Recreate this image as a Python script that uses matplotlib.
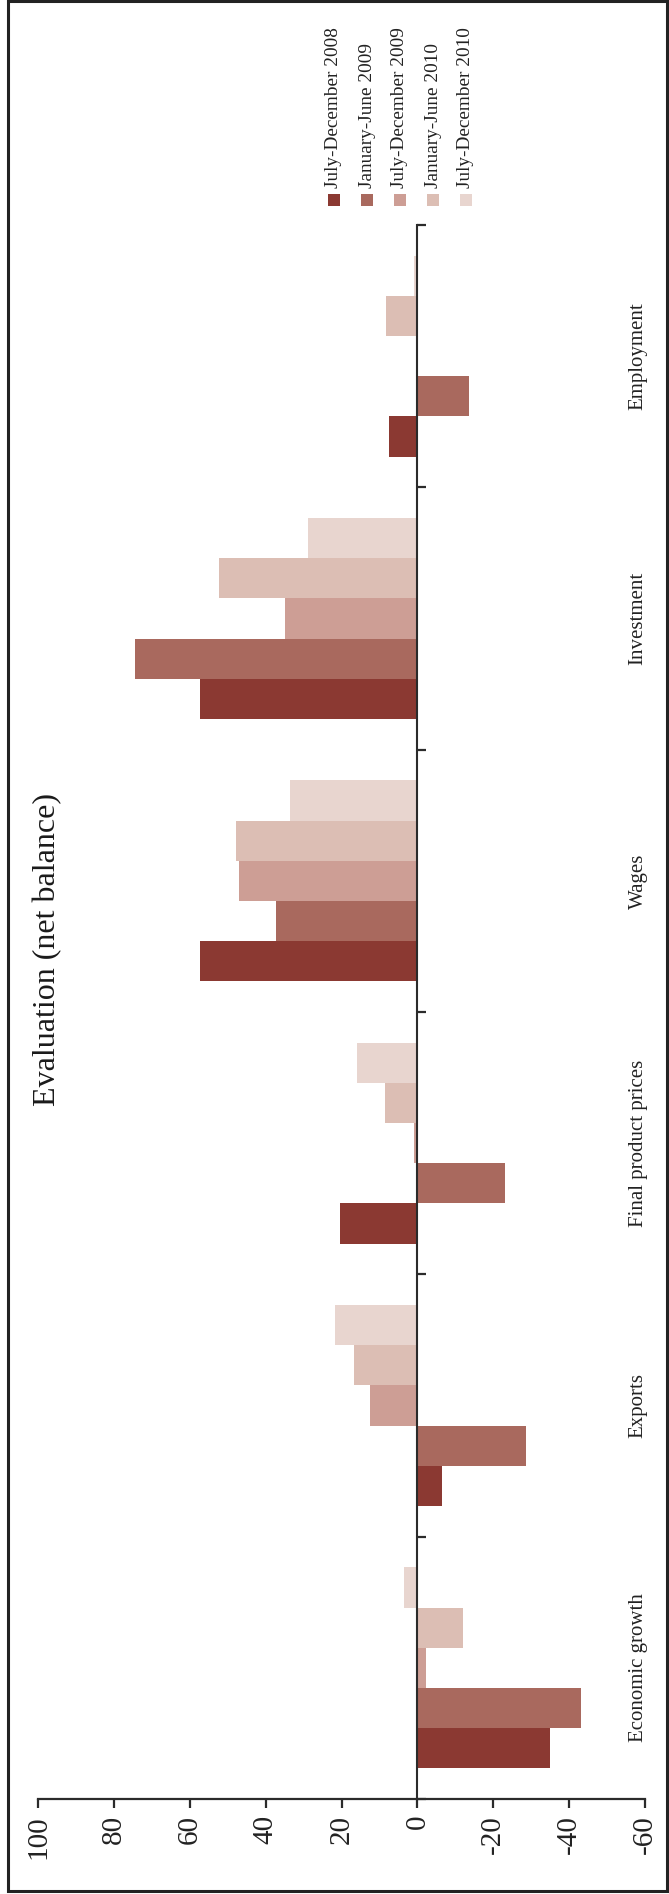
import matplotlib
matplotlib.use("Agg")
import matplotlib.pyplot as plt
from matplotlib.patches import Rectangle
from matplotlib.transforms import blended_transform_factory
import numpy as np

plt.rcParams['font.family'] = ['Liberation Serif', 'DejaVu Serif']

# ---- data ----
categories = ["Economic growth", "Exports", "Final product prices",
              "Wages", "Investment", "Employment"]
series_names = ["July-December 2008", "January-June 2009", "July-December 2009",
                "January-June 2010", "July-December 2010"]
jul_dec_2008 = [-35, -6.5, 20.5, 57.2, 57.4, 7.6]
jan_jun_2009 = [-43, -28.6, -23.2, 37.2, 74.4, -13.5]
jul_dec_2009 = [-2.4, 12.6, 1.0, 46.9, 34.8, 0]
jan_jun_2010 = [-11.9, 16.6, 8.5, 47.7, 52.4, 8.4]
jul_dec_2010 = [3.6, 21.8, 16.0, 33.7, 28.7, 1.0]
series = [jul_dec_2008, jan_jun_2009, jul_dec_2009, jan_jun_2010, jul_dec_2010]
colors = ["#8B3932", "#A9695E", "#CD9E95", "#DCBEB4", "#E8D5CF"]
value_ticks = [100, 80, 60, 40, 20, 0, -20, -40, -60]

W, H = 669, 1894
DPI = 100
fig = plt.figure(figsize=(W / DPI, H / DPI), dpi=DPI)


def fx(px):
    return px / W


def fy(py):
    return 1 - py / H


# axes box in pixels (left, top, right, bottom)
L, T, R, B = 38, 225, 645, 1799
ax = fig.add_axes([fx(L), fy(B), (R - L) / W, (B - T) / H])

n = len(categories)
bw = 0.153
centers = np.arange(n) + 0.5
for k, (vals, col, name) in enumerate(zip(series, colors, series_names)):
    ax.barh(centers + (k - 2) * bw, vals, height=bw, color=col,
            edgecolor='none', label=name, zorder=2)

ax.set_xlim(100, -60)
ax.set_ylim(0, n)

spine_col = "#2b2b2b"
for s in ["top", "right"]:
    ax.spines[s].set_visible(False)
ax.spines["left"].set_position(("data", 0))
ax.spines["left"].set_linewidth(1.5)
ax.spines["left"].set_color(spine_col)
ax.spines["left"].set_zorder(3)
ax.spines["bottom"].set_linewidth(1.6)
ax.spines["bottom"].set_color(spine_col)

ax.set_yticks(np.arange(n + 1))
ax.set_yticklabels([])
ax.tick_params(axis="y", direction="in", length=6.5, width=1.6, color=spine_col)

ax.set_xticks(value_ticks)
ax.set_xticklabels([str(v) for v in value_ticks], rotation=90, fontsize=21)
ax.tick_params(axis="x", direction="out", length=6.5, width=1.6,
               color=spine_col, pad=5, labelcolor="#222222")

# category names along the right side
trans = blended_transform_factory(ax.transAxes, ax.transData)
for c, name in zip(centers, categories):
    ax.text((638 - L) / (R - L), c, name, transform=trans, rotation=90,
            ha="center", va="center", fontsize=15, color="#222222")

# title
fig.text(fx(47.5), fy(950), "Evaluation (net balance)", rotation=90,
         ha="center", va="center", fontsize=23, color="#1a1a1a")

# legend: swatch below, rotated name above
leg_x = [334, 367, 400, 433, 466]
for xc, col, name in zip(leg_x, colors, series_names):
    fig.patches.append(Rectangle((fx(xc - 6), fy(206)), 12 / W, 12 / H,
                                 transform=fig.transFigure, facecolor=col,
                                 edgecolor="none"))
    fig.text(fx(xc), fy(188), name, rotation=90, ha="center", va="bottom",
             fontsize=13.9, color="#222222")

# outer frame
fig.patches.append(Rectangle((fx(8), fy(1891)), (667 - 8) / W, (1891 - 1.5) / H,
                             transform=fig.transFigure, facecolor="none",
                             edgecolor="#222222", linewidth=2.2))

fig.savefig("out.png", dpi=DPI)
